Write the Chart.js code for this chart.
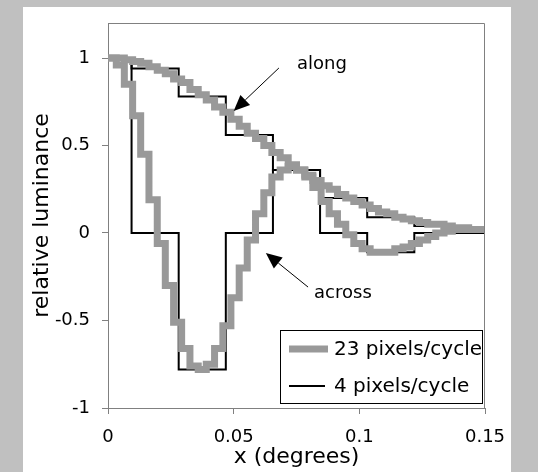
<!DOCTYPE html>
<html><head><meta charset="utf-8">
<script src="https://cdn.jsdelivr.net/npm/chart.js@4.4.1/dist/chart.umd.min.js"></script>
<style>
html,body{margin:0;padding:0;background:#c0c0c0;width:538px;height:472px;overflow:hidden;}
#panel{position:absolute;left:23px;top:7px;width:488px;height:465px;background:#fff;}
canvas{display:block;}
</style></head><body>
<div id="panel"><canvas id="c" width="488" height="465"></canvas></div>
<script>
const xTicks = [0, 0.05, 0.1, 0.15];
const yTicks = [-1, -0.5, 0, 0.5, 1];
const seriesNames = ['23 pixels/cycle', '4 pixels/cycle'];

// 4 pixels/cycle (thin black), pixel centres
const coarseX      = [0, 0.01875, 0.0375, 0.05625, 0.075, 0.09375, 0.1125, 0.13125, 0.15];
const coarseAlong  = [1, 0.94, 0.78, 0.56, 0.36, 0.20, 0.09, 0.04, 0.02];
const coarseAcross = [1, 0, -0.78, 0, 0.36, 0, -0.11, 0, 0];

// 23 pixels/cycle (thick grey)
const fineX = [0, 0.0033, 0.0065, 0.0098, 0.0130, 0.0163, 0.0196, 0.0228, 0.0261, 0.0293,
  0.0326, 0.0359, 0.0391, 0.0424, 0.0457, 0.0489, 0.0522, 0.0554, 0.0587, 0.0620,
  0.0652, 0.0685, 0.0717, 0.0750, 0.0783, 0.0815, 0.0848, 0.0880, 0.0913, 0.0946,
  0.0978, 0.1011, 0.1043, 0.1076, 0.1109, 0.1141, 0.1174, 0.1207, 0.1239, 0.1272,
  0.1304, 0.1337, 0.1370, 0.1402, 0.1435, 0.1467, 0.1500];
const fineAlong = [1.00, 1.00, 0.99, 0.98, 0.97, 0.95, 0.93, 0.91, 0.88, 0.86,
  0.82, 0.79, 0.76, 0.72, 0.69, 0.65, 0.61, 0.57, 0.54, 0.50,
  0.46, 0.43, 0.39, 0.36, 0.33, 0.30, 0.27, 0.25, 0.22, 0.20,
  0.18, 0.16, 0.14, 0.12, 0.11, 0.09, 0.08, 0.07, 0.06, 0.05,
  0.05, 0.04, 0.03, 0.03, 0.02, 0.02, 0.02];
const fineAcross = [1.00, 0.96, 0.85, 0.67, 0.45, 0.19, -0.06, -0.30, -0.51, -0.66,
  -0.76, -0.78, -0.75, -0.66, -0.53, -0.37, -0.20, -0.04, 0.11, 0.23,
  0.32, 0.36, 0.38, 0.36, 0.32, 0.26, 0.18, 0.11, 0.05, -0.01,
  -0.06, -0.09, -0.11, -0.11, -0.11, -0.09, -0.08, -0.06, -0.04, -0.02,
  0.00, 0.01, 0.02, 0.02, 0.02, 0.02, 0.02];

const notes = [
  {text: 'along',  tx: 0.0752, ty: 0.966,  fx: 0.068,  fy: 0.943,  hx: 0.0500, hy: 0.697},
  {text: 'across', tx: 0.0820, ty: -0.343, fx: 0.0796, fy: -0.309, hx: 0.0628, hy: -0.114}
];

const GREY = '#999999';
Chart.defaults.font.family = '"DejaVu Sans", Verdana, sans-serif';
Chart.defaults.color = '#000';

function pts(xs, ys) { return xs.map((v, i) => ({x: v, y: ys[i]})); }

function arrow(ctx, x0, y0, x1, y1) {
  const ang = Math.atan2(y1 - y0, x1 - x0);
  const L = 16, W = 7;
  const bx = x1 - L * Math.cos(ang), by = y1 - L * Math.sin(ang);
  ctx.beginPath();
  ctx.moveTo(x0, y0); ctx.lineTo(bx, by);
  ctx.lineWidth = 1; ctx.strokeStyle = '#000'; ctx.stroke();
  ctx.beginPath();
  ctx.moveTo(x1, y1);
  ctx.lineTo(bx + W * Math.sin(ang), by - W * Math.cos(ang));
  ctx.lineTo(bx - W * Math.sin(ang), by + W * Math.cos(ang));
  ctx.closePath(); ctx.fillStyle = '#000'; ctx.fill();
}

const decor = {
  id: 'decor',
  afterDatasetsDraw(chart) {
    const {ctx, chartArea: a, scales: {x, y}} = chart;
    ctx.save();
    ctx.strokeStyle = '#808080'; ctx.lineWidth = 1;
    ctx.beginPath();
    ctx.moveTo(a.left, a.top + 0.5); ctx.lineTo(a.right - 0.5, a.top + 0.5); ctx.lineTo(a.right - 0.5, a.bottom);
    ctx.stroke();

    ctx.font = '18px "DejaVu Sans"'; ctx.fillStyle = '#000';
    ctx.textBaseline = 'middle'; ctx.textAlign = 'left';
    for (const n of notes) {
      ctx.fillStyle = '#000';
      ctx.fillText(n.text, x.getPixelForValue(n.tx), y.getPixelForValue(n.ty));
      arrow(ctx, x.getPixelForValue(n.fx), y.getPixelForValue(n.fy), x.getPixelForValue(n.hx), y.getPixelForValue(n.hy));
    }

    // legend box
    const bw = 203, bh = 74;
    const bl = a.right - 2 - bw, bt = a.bottom - 4 - bh;
    ctx.fillStyle = '#fff'; ctx.fillRect(bl, bt, bw, bh);
    ctx.strokeStyle = '#000'; ctx.lineWidth = 1;
    ctx.strokeRect(bl + 0.5, bt + 0.5, bw - 1, bh - 1);
    const rows = [
      {name: seriesNames[0], color: GREY, w: 7, len: 39, dy: 19},
      {name: seriesNames[1], color: '#000', w: 2, len: 36, dy: 56}
    ];
    ctx.font = '20px "DejaVu Sans"';
    for (const r of rows) {
      ctx.beginPath();
      ctx.moveTo(bl + 9, bt + r.dy); ctx.lineTo(bl + 9 + r.len, bt + r.dy);
      ctx.strokeStyle = r.color; ctx.lineWidth = r.w; ctx.lineCap = 'butt'; ctx.stroke();
      ctx.fillStyle = '#000';
      ctx.fillText(r.name, bl + 54, bt + r.dy + 1);
    }
    ctx.restore();
  }
};

const gridOpts = {display: true, drawOnChartArea: false, drawTicks: true, tickLength: 6, color: '#808080'};

new Chart(document.getElementById('c'), {
  type: 'line',
  data: {
    datasets: [
      {label: seriesNames[0], data: pts(fineX, fineAlong), borderColor: GREY, borderWidth: 7, stepped: true, pointRadius: 0, borderJoinStyle: 'miter', borderCapStyle: 'butt'},
      {label: seriesNames[0], data: pts(fineX, fineAcross), borderColor: GREY, borderWidth: 7, stepped: true, pointRadius: 0, borderJoinStyle: 'miter', borderCapStyle: 'butt'},
      {label: seriesNames[1], data: pts(coarseX, coarseAlong), borderColor: '#000', borderWidth: 2, stepped: 'middle', pointRadius: 0, borderJoinStyle: 'miter'},
      {label: seriesNames[1], data: pts(coarseX, coarseAcross), borderColor: '#000', borderWidth: 2, stepped: 'middle', pointRadius: 0, borderJoinStyle: 'miter'}
    ]
  },
  options: {
    responsive: false, animation: false, devicePixelRatio: 1,
    layout: {padding: {top: 16, right: 26, bottom: 0, left: 0}},
    plugins: {legend: {display: false}, tooltip: {enabled: false}},
    scales: {
      x: {
        type: 'linear', min: 0, max: 0.15,
        afterBuildTicks: s => { s.ticks = xTicks.map(v => ({value: v})); },
        afterFit: s => { s.height = 64; s.paddingLeft = 0; s.paddingRight = 0; },
        ticks: {font: {size: 18}, color: '#000', padding: 13, maxRotation: 0, autoSkip: false, callback: v => String(v)},
        grid: gridOpts, border: {display: true, color: '#808080', width: 1},
        title: {display: true, text: 'x (degrees)', font: {size: 22}, color: '#000', padding: {top: 0, bottom: 2}}
      },
      y: {
        type: 'linear', min: -1, max: 1.2,
        afterBuildTicks: s => { s.ticks = yTicks.map(v => ({value: v})); },
        afterFit: s => { s.width = 85; s.paddingTop = 0; s.paddingBottom = 0; },
        ticks: {font: {size: 18}, color: '#000', padding: 12, autoSkip: false, callback: v => String(v)},
        grid: gridOpts, border: {display: true, color: '#808080', width: 1},
        title: {display: true, text: 'relative luminance', font: {size: 22}, color: '#000', padding: {top: 6, bottom: 0}}
      }
    }
  },
  plugins: [decor]
});
</script>
</body></html>
